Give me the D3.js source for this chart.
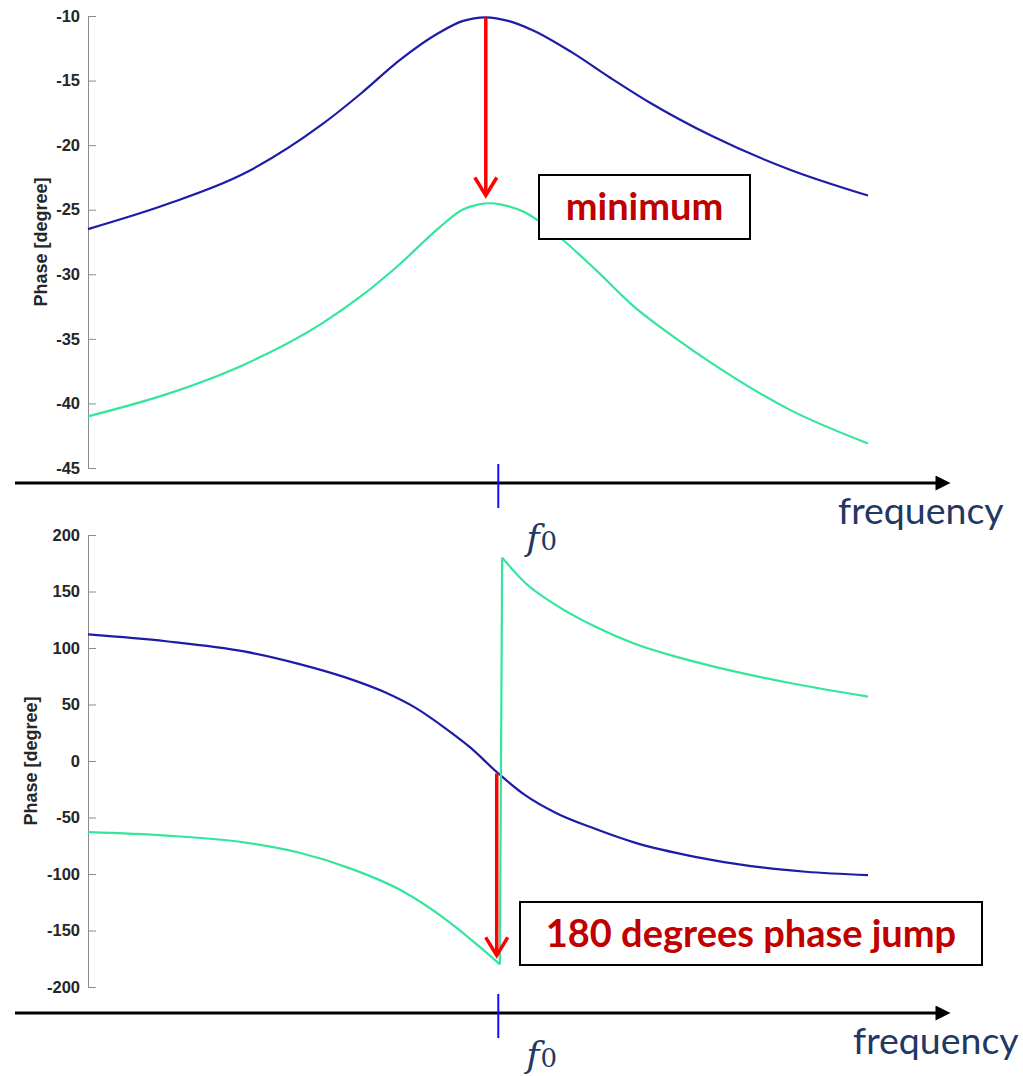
<!DOCTYPE html>
<html>
<head>
<meta charset="utf-8">
<title>Phase vs frequency</title>
<script src="https://d3js.org/d3.v7.min.js"></script>
<style>
  body { margin: 0; background: #fff; }
  .axis path, .axis line { stroke: #8c8c8c; stroke-width: 1px; }
  .axis text { font: bold 16.5px "Liberation Sans", Arial, sans-serif; fill: #262626; }
  .ylabel { font: bold 18px "Liberation Sans", Arial, sans-serif; fill: #262626; }
  .freq { font: 37.5px Lato, "Open Sans", sans-serif; fill: #1f3864; }
  .f0 { font-family: "DejaVu Serif", "Liberation Serif", serif; fill: #1f3864; }
  .note { font: bold 38px Lato, "Open Sans", sans-serif; fill: #c00000; }
</style>
</head>
<body>
<script>
  var width = 1023,
      height = 1076;

  // frequency in arbitrary units, resonance at f0
  var f0 = 52.6;

  // top chart [degree]
  var topBlueF = [0, 10, 20, 30, 35, 40, 45, 48, 51, 54, 57, 62, 67, 72, 80, 90, 100];
  var topBlueV = [-26.5, -24.6, -22.2, -18.4, -16.0, -13.4, -11.3, -10.4, -10.1, -10.4, -11.1, -12.8, -14.8, -16.7, -19.3, -21.9, -23.9];
  var topGreenF = [0, 10, 20, 30, 35, 40, 45, 48, 50, 51.5, 53, 56, 60, 65, 70, 75, 80, 90, 100];
  var topGreenV = [-41.0, -39.3, -37.0, -33.8, -31.7, -29.2, -26.4, -25.0, -24.6, -24.5, -24.6, -25.2, -26.9, -29.6, -32.5, -34.8, -36.9, -40.5, -43.1];
  var topTicks = [-45, -40, -35, -30, -25, -20, -15, -10];

  // bottom chart [degree]
  var botBlueF = [0, 10, 20, 27, 33, 38, 42, 46, 49, 52.6, 56, 60, 65, 70, 78, 85, 92, 100];
  var botBlueV = [112, 106, 97, 86, 74, 61, 47, 28, 12, -11, -30, -46, -60, -72, -85, -93, -98, -101];
  var botGreenLoF = [0, 10, 20, 27, 33.6, 40, 46.4, 50.3, 52.8];
  var botGreenLoV = [-63, -66, -72, -81, -95, -114, -143, -165, -180];
  var botGreenHiF = [53.1, 56, 60, 65, 70, 75, 80, 90, 100];
  var botGreenHiV = [180, 158, 138, 119, 104, 93, 84, 69, 57];
  var botTicks = [-200, -150, -100, -50, 0, 50, 100, 150, 200];

  var blue = "#1c1ca8",
      green = "#33e69b",
      red = "#ff0000";

  var svg = d3.select("body").append("svg")
      .attr("width", width)
      .attr("height", height);

  svg.append("defs").append("marker")
      .attr("id", "blackhead")
      .attr("viewBox", "0 0 10 10")
      .attr("refX", 1).attr("refY", 5)
      .attr("markerWidth", 6).attr("markerHeight", 5)
      .attr("markerUnits", "strokeWidth")
      .attr("orient", "auto")
      .append("path")
      .attr("d", "M0,0L10,5L0,10z")
      .attr("fill", "#000");

  var x = d3.scaleLinear().domain([0, 100]).range([88, 868]);

  function zip(fs, vs) {
    return fs.map(function(f, i) { return {f: f, v: vs[i]}; });
  }

  function drawPanel(opt) {
    var y = d3.scaleLinear().domain(opt.domain).range(opt.range);
    var g = svg.append("g");

    g.append("g")
        .attr("class", "axis")
        .attr("transform", "translate(" + x.range()[0] + ",0)")
        .call(d3.axisLeft(y).tickValues(opt.ticks)
          .tickFormat(function(d) { return String(d); })
          .tickSizeInner(-8).tickSizeOuter(0).tickPadding(8));

    var midY = (opt.range[0] + opt.range[1]) / 2;
    g.append("text")
        .attr("class", "ylabel")
        .attr("transform", "translate(" + opt.labelX + "," + midY + ") rotate(-90)")
        .attr("text-anchor", "middle")
        .text("Phase [degree]");

    var line = d3.line()
        .x(function(d) { return x(d.f); })
        .y(function(d) { return y(d.v); })
        .curve(d3.curveMonotoneX);

    opt.series.forEach(function(s) {
      g.append("path")
          .datum(s.data)
          .attr("d", line)
          .attr("fill", "none")
          .attr("stroke", s.color)
          .attr("stroke-width", 2.2);
    });

    if (opt.jump) {
      // vertical phase jump between the two green branches
      g.append("path")
          .datum(opt.jump)
          .attr("d", d3.line().x(function(d) { return x(d.f); }).y(function(d) { return y(d.v); }))
          .attr("fill", "none")
          .attr("stroke", green)
          .attr("stroke-width", 2.2);
    }

    // frequency arrow
    g.append("line")
        .attr("x1", 15).attr("x2", 937)
        .attr("y1", opt.axisY).attr("y2", opt.axisY)
        .attr("stroke", "#000")
        .attr("stroke-width", 3)
        .attr("marker-end", "url(#blackhead)");

    g.append("line")
        .attr("x1", x(f0)).attr("x2", x(f0))
        .attr("y1", opt.axisY - 19).attr("y2", opt.axisY + 25)
        .attr("stroke", "#1010ff")
        .attr("stroke-width", 2);

    g.append("text")
        .attr("class", "freq")
        .attr("x", opt.freqX).attr("y", opt.axisY + 41)
        .text("frequency");

    var ft = g.append("text")
        .attr("class", "f0")
        .attr("x", x(f0) + 28).attr("y", opt.f0Y);
    ft.append("tspan").attr("font-style", "italic").attr("font-size", 36).text("f");
    ft.append("tspan").attr("font-size", 26).attr("dx", 1).text("0");

    // red arrow
    var ax = x(opt.arrow.f);
    var y1 = y(opt.arrow.from), y2 = y(opt.arrow.to);
    g.append("line")
        .attr("x1", ax).attr("x2", ax)
        .attr("y1", y1).attr("y2", y2)
        .attr("stroke", red).attr("stroke-width", 3.5);
    g.append("path")
        .attr("d", "M" + (ax - 11) + "," + (y2 - 18) + "L" + ax + "," + y2 + "L" + (ax + 11) + "," + (y2 - 18))
        .attr("fill", "none")
        .attr("stroke", red).attr("stroke-width", 3.5);

    // note box
    var b = opt.box;
    g.append("rect")
        .attr("x", b.x).attr("y", b.y)
        .attr("width", b.w).attr("height", b.h)
        .attr("fill", "#fff")
        .attr("stroke", "#000")
        .attr("stroke-width", 2);
    g.append("text")
        .attr("class", "note")
        .attr("x", b.x + b.w / 2).attr("y", b.y + b.h / 2 + 13)
        .attr("text-anchor", "middle")
        .text(b.text);
  }

  drawPanel({
    domain: [-45, -10], range: [468, 16], ticks: topTicks, labelX: 47,
    series: [{data: zip(topBlueF, topBlueV), color: blue}, {data: zip(topGreenF, topGreenV), color: green}],
    axisY: 483, freqX: 838, f0Y: 550,
    arrow: {f: 51, from: -10.1, to: -23.9},
    box: {x: 539, y: 175, w: 211, h: 64, text: "minimum"}
  });

  var loGreen = zip(botGreenLoF, botGreenLoV),
      hiGreen = zip(botGreenHiF, botGreenHiV);

  drawPanel({
    domain: [-200, 200], range: [987, 535], ticks: botTicks, labelX: 37,
    series: [{data: zip(botBlueF, botBlueV), color: blue}, {data: loGreen, color: green}, {data: hiGreen, color: green}],
    jump: [loGreen[loGreen.length - 1], hiGreen[0]],
    axisY: 1013, freqX: 853, f0Y: 1067,
    arrow: {f: 52.4, from: -11, to: -172},
    box: {x: 520, y: 902, w: 462, h: 63, text: "180 degrees phase jump"}
  });
</script>
</body>
</html>
